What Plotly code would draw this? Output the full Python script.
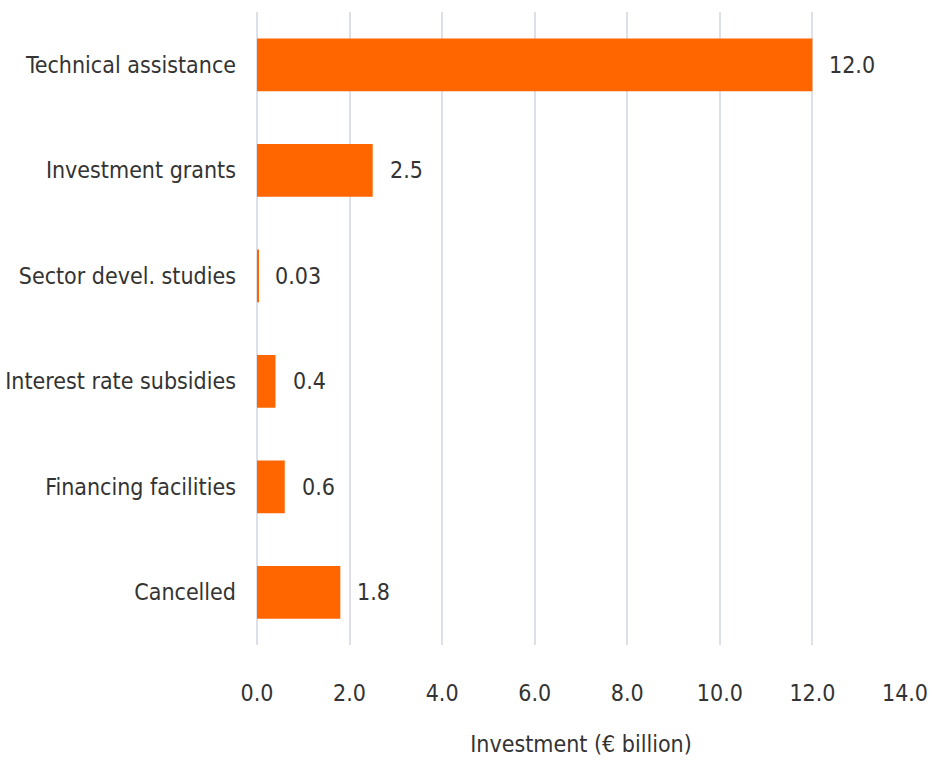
import plotly.graph_objects as go

categories = ["Technical assistance", "Investment grants", "Sector devel. studies",
              "Interest rate subsidies", "Financing facilities", "Cancelled"]
values = [12.0, 2.5, 0.03, 0.4, 0.6, 1.8]
value_labels = ["12.0", "2.5", "0.03", "0.4", "0.6", "1.8"]
x_ticks = [0, 2, 4, 6, 8, 10, 12, 14]
x_tick_labels = ["0.0", "2.0", "4.0", "6.0", "8.0", "10.0", "12.0", "14.0"]

FONT = "Liberation Sans Narrow, DejaVu Sans Condensed, Arial Narrow, sans-serif"
TXT = "#333333"
FS = 23

fig = go.Figure()
fig.add_trace(go.Bar(
    x=values, y=categories, orientation="h",
    marker=dict(color="#FF6600", line=dict(width=0)),
    hoverinfo="skip",
))

for v, c, lab in zip(values, categories, value_labels):
    fig.add_annotation(x=v, y=c, text=lab, showarrow=False, xanchor="left",
                       xshift=15, font=dict(family=FONT, size=FS, color=TXT))

fig.update_layout(
    width=932, height=764,
    margin=dict(l=257, r=27, t=12, b=119),
    paper_bgcolor="white", plot_bgcolor="white",
    bargap=0.5,
    showlegend=False,
    font=dict(family=FONT, size=FS, color=TXT),
    xaxis=dict(
        range=[0, 14], tickvals=x_ticks, ticktext=x_tick_labels,
        showgrid=True, gridcolor="#DDE0EA", gridwidth=2,
        zeroline=True, zerolinecolor="#DDE0EA", zerolinewidth=2,
        showline=False, ticks="",
        ticklabelstandoff=32, automargin=False,
        tickfont=dict(family=FONT, size=FS, color=TXT),
        title=dict(text="Investment (€ billion)", standoff=30,
                   font=dict(family=FONT, size=FS, color=TXT)),
        fixedrange=True,
    ),
    yaxis=dict(
        autorange="reversed", showgrid=False, zeroline=False, showline=False,
        ticks="", ticklabelstandoff=20, automargin=False,
        tickfont=dict(family=FONT, size=FS, color=TXT),
        fixedrange=True,
    ),
)

fig.write_html("out.html")
